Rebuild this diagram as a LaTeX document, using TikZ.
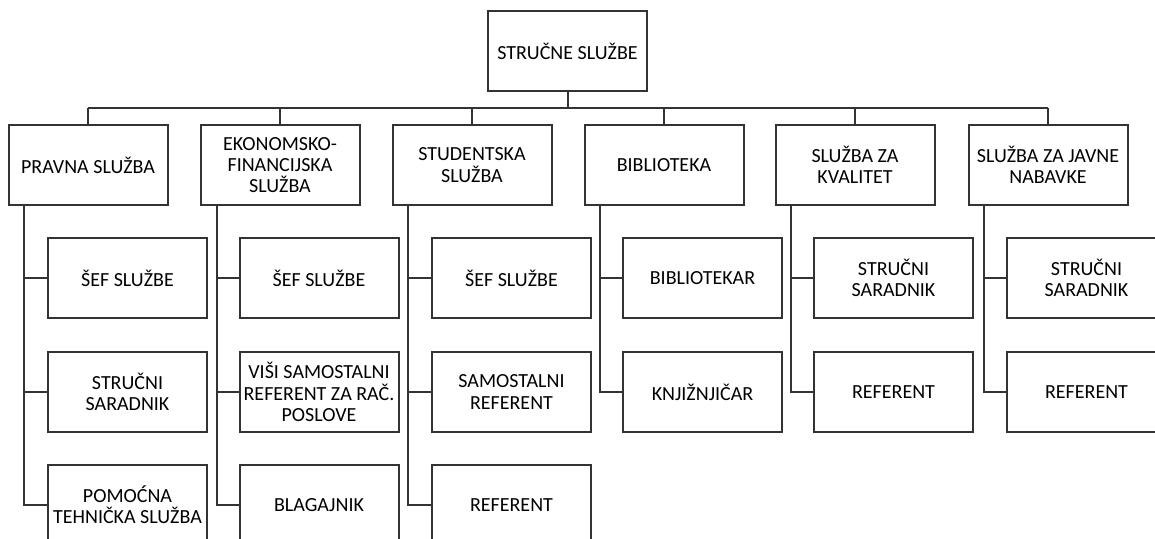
\documentclass[tikz,border=0pt]{standalone}
\usepackage{fontspec}
\setmainfont{Carlito}
\usetikzlibrary{calc}

\begin{document}
\begin{tikzpicture}[x=0.5pt,y=-0.5pt,
  box/.style={draw=black!80, line width=1pt, minimum width=79.5pt, minimum height=40pt, inner sep=1pt, align=center, font=\fontsize{10}{10.6}\selectfont},
  link/.style={draw=black!80, line width=1pt}]
\useasboundingbox (0,0) rectangle (1155,539);

\node[box] (top) at (567.5,51.5) {STRUČNE SLUŽBE};

% first level
\node[box] (pravna) at (88,165) {PRAVNA SLUŽBA};
\node[box] (ekon) at (280,165) {EKONOMSKO-\\FINANCIJSKA\\SLUŽBA};
\node[box] (stud) at (472,165) {STUDENTSKA\\SLUŽBA};
\node[box] (bibl) at (664,165) {BIBLIOTEKA};
\node[box] (kval) at (855,165) {SLUŽBA ZA\\KVALITET};
\node[box] (nab) at (1048,165) {SLUŽBA ZA JAVNE\\NABAVKE};

% second level
\node[box] (pravnaA) at (127.5,278) {ŠEF SLUŽBE};
\node[box] (pravnaB) at (127.5,392) {STRUČNI\\SARADNIK};
\node[box] (pravnaC) at (127.5,505) {POMOĆNA\\TEHNIČKA SLUŽBA};

\node[box] (ekonA) at (319,278) {ŠEF SLUŽBE};
\node[box] (ekonB) at (319,392) {VIŠI SAMOSTALNI\\REFERENT ZA RAČ.\\POSLOVE};
\node[box] (ekonC) at (319,505) {BLAGAJNIK};

\node[box] (studA) at (511.5,278) {ŠEF SLUŽBE};
\node[box] (studB) at (511.5,392) {SAMOSTALNI\\REFERENT};
\node[box] (studC) at (511.5,505) {REFERENT};

\node[box] (biblA) at (702.5,278) {BIBLIOTEKAR};
\node[box] (biblB) at (702.5,392) {KNJIŽNJIČAR};

\node[box] (kvalA) at (893.5,278) {STRUČNI\\SARADNIK};
\node[box] (kvalB) at (893.5,392) {REFERENT};

\node[box] (nabA) at (1086.5,278) {STRUČNI\\SARADNIK};
\node[box] (nabB) at (1086.5,392) {REFERENT};

% bus
\coordinate (busL) at (88,108);
\coordinate (busR) at (1048,108);
\draw[link] (top.south) -- (top.south |- busL);
\draw[link] (busL) -- (busR);
\draw[link] (pravna.north) -- (pravna.north |- busL);
\draw[link] (ekon.north) -- (ekon.north |- busL);
\draw[link] (stud.north) -- (stud.north |- busL);
\draw[link] (bibl.north) -- (bibl.north |- busL);
\draw[link] (kval.north) -- (kval.north |- busL);
\draw[link] (nab.north) -- (nab.north |- busL);

% columns
\draw[link] ([xshift=8pt]pravna.south west) |- (pravnaA.west);
\draw[link] ([xshift=8pt]pravna.south west) |- (pravnaB.west);
\draw[link] ([xshift=8pt]pravna.south west) |- (pravnaC.west);
\draw[link] ([xshift=8.5pt]ekon.south west) |- (ekonA.west);
\draw[link] ([xshift=8.5pt]ekon.south west) |- (ekonB.west);
\draw[link] ([xshift=8.5pt]ekon.south west) |- (ekonC.west);
\draw[link] ([xshift=8pt]stud.south west) |- (studA.west);
\draw[link] ([xshift=8pt]stud.south west) |- (studB.west);
\draw[link] ([xshift=8pt]stud.south west) |- (studC.west);
\draw[link] ([xshift=8pt]bibl.south west) |- (biblA.west);
\draw[link] ([xshift=8pt]bibl.south west) |- (biblB.west);
\draw[link] ([xshift=8pt]kval.south west) |- (kvalA.west);
\draw[link] ([xshift=8pt]kval.south west) |- (kvalB.west);
\draw[link] ([xshift=8pt]nab.south west) |- (nabA.west);
\draw[link] ([xshift=8pt]nab.south west) |- (nabB.west);
\end{tikzpicture}
\end{document}
